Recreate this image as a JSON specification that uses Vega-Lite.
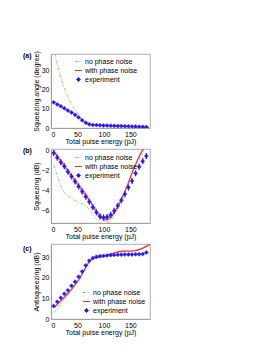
{
"$schema": "https://vega.github.io/schema/vega-lite/v6.json",
"padding": {"left": 22, "top": 50, "right": 5, "bottom": 5},
"spacing": 0,
"resolve": {"scale": {"color": "independent"}, "legend": {"color": "independent"}},
"config": {
  "font": "Liberation Sans",
  "view": {"stroke": "#999", "strokeWidth": 0.8},
  "axis": {"labelFontSize": 7, "titleFontSize": 7, "titleFontWeight": "normal", "grid": false, "ticks": false, "domainColor": "#999", "domainWidth": 0.8, "labelColor": "#000", "titleColor": "#000", "labelPadding": 2},
  "axisX": {"titlePadding": 0},
  "axisY": {"titlePadding": 2},
  "legend": {"labelFontSize": 7, "labelColor": "#000", "rowPadding": 1, "labelOffset": 2, "symbolSize": 50, "padding": 0},
  "title": {"fontSize": 7, "fontWeight": "bold", "anchor": "start", "frame": "group", "color": "#000", "baseline": "top"}
},
"datasets": {
  "aG": [{"x":5,"y":42,"series":"no phase noise"},{"x":10,"y":35,"series":"no phase noise"},{"x":15,"y":29.5,"series":"no phase noise"},{"x":20,"y":24.7,"series":"no phase noise"},{"x":25,"y":20.6,"series":"no phase noise"},{"x":30,"y":17.2,"series":"no phase noise"},{"x":35,"y":14.3,"series":"no phase noise"},{"x":40,"y":11.7,"series":"no phase noise"},{"x":45,"y":9.3,"series":"no phase noise"},{"x":50,"y":7.2,"series":"no phase noise"},{"x":55,"y":5.4,"series":"no phase noise"},{"x":60,"y":3.8,"series":"no phase noise"},{"x":65,"y":2.6,"series":"no phase noise"},{"x":70,"y":1.9,"series":"no phase noise"},{"x":78,"y":1.6,"series":"no phase noise"},{"x":90,"y":1.35,"series":"no phase noise"},{"x":110,"y":1.1,"series":"no phase noise"},{"x":130,"y":0.9,"series":"no phase noise"},{"x":150,"y":0.7,"series":"no phase noise"},{"x":170,"y":0.5,"series":"no phase noise"},{"x":185,"y":0.4,"series":"no phase noise"}],
  "aR": [{"x":5,"y":13.6,"series":"with phase noise"},{"x":15,"y":12,"series":"with phase noise"},{"x":25,"y":10.3,"series":"with phase noise"},{"x":35,"y":8.6,"series":"with phase noise"},{"x":45,"y":6.9,"series":"with phase noise"},{"x":55,"y":4.9,"series":"with phase noise"},{"x":62,"y":3.3,"series":"with phase noise"},{"x":70,"y":2.1,"series":"with phase noise"},{"x":78,"y":1.6,"series":"with phase noise"},{"x":90,"y":1.35,"series":"with phase noise"},{"x":110,"y":1.1,"series":"with phase noise"},{"x":130,"y":0.9,"series":"with phase noise"},{"x":150,"y":0.7,"series":"with phase noise"},{"x":170,"y":0.5,"series":"with phase noise"},{"x":185,"y":0.4,"series":"with phase noise"}],
  "aE": [{"x":5,"y":13.3,"e":0.5,"series":"experiment"},{"x":11.7,"y":12.2,"e":0.5,"series":"experiment"},{"x":18.5,"y":11.3,"e":0.5,"series":"experiment"},{"x":25.2,"y":10.2,"e":0.5,"series":"experiment"},{"x":31.9,"y":9.0,"e":0.5,"series":"experiment"},{"x":38.7,"y":8.0,"e":0.5,"series":"experiment"},{"x":45.4,"y":6.8,"e":0.5,"series":"experiment"},{"x":52.1,"y":5.5,"e":0.5,"series":"experiment"},{"x":58.8,"y":4.0,"e":0.5,"series":"experiment"},{"x":65.6,"y":2.7,"e":0.5,"series":"experiment"},{"x":72.3,"y":1.9,"e":0.5,"series":"experiment"},{"x":79,"y":1.6,"e":0.5,"series":"experiment"},{"x":85.8,"y":1.5,"e":0.5,"series":"experiment"},{"x":92.5,"y":1.4,"e":0.5,"series":"experiment"},{"x":99.2,"y":1.3,"e":0.5,"series":"experiment"},{"x":105.9,"y":1.25,"e":0.5,"series":"experiment"},{"x":112.7,"y":1.2,"e":0.5,"series":"experiment"},{"x":119.4,"y":1.1,"e":0.5,"series":"experiment"},{"x":126.1,"y":1.05,"e":0.5,"series":"experiment"},{"x":132.9,"y":1.0,"e":0.5,"series":"experiment"},{"x":139.6,"y":0.95,"e":0.5,"series":"experiment"},{"x":146.3,"y":0.9,"e":0.5,"series":"experiment"},{"x":153,"y":0.8,"e":0.5,"series":"experiment"},{"x":159.8,"y":0.75,"e":0.5,"series":"experiment"},{"x":166.5,"y":0.7,"e":0.5,"series":"experiment"},{"x":173.2,"y":0.6,"e":0.5,"series":"experiment"},{"x":180,"y":0.5,"e":0.5,"series":"experiment"}],
  "bG": [{"x":5,"y":-1.5,"series":"no phase noise"},{"x":12,"y":-2.55,"series":"no phase noise"},{"x":18,"y":-3.5,"series":"no phase noise"},{"x":24.5,"y":-4.2,"series":"no phase noise"},{"x":31,"y":-4.5,"series":"no phase noise"},{"x":40,"y":-4.85,"series":"no phase noise"},{"x":50,"y":-5.1,"series":"no phase noise"},{"x":59,"y":-5.3,"series":"no phase noise"},{"x":69,"y":-5.65,"series":"no phase noise"},{"x":78,"y":-6.3,"series":"no phase noise"},{"x":88,"y":-6.95,"series":"no phase noise"},{"x":97,"y":-7.25,"series":"no phase noise"},{"x":105,"y":-7.3,"series":"no phase noise"},{"x":113,"y":-6.95,"series":"no phase noise"},{"x":118,"y":-6.55,"series":"no phase noise"},{"x":122,"y":-6.0,"series":"no phase noise"},{"x":130,"y":-5.2,"series":"no phase noise"},{"x":138,"y":-4.3,"series":"no phase noise"},{"x":145,"y":-3.4,"series":"no phase noise"},{"x":152,"y":-2.4,"series":"no phase noise"},{"x":160,"y":-1.4,"series":"no phase noise"},{"x":167,"y":-0.6,"series":"no phase noise"},{"x":173,"y":0.0,"series":"no phase noise"},{"x":180,"y":0.5,"series":"no phase noise"}],
  "bR": [{"x":5,"y":-0.1,"lo":-0.35,"hi":0.15,"series":"with phase noise"},{"x":15,"y":-0.85,"lo":-1.1,"hi":-0.6,"series":"with phase noise"},{"x":25,"y":-1.55,"lo":-1.8,"hi":-1.3,"series":"with phase noise"},{"x":35,"y":-2.3,"lo":-2.55,"hi":-2.05,"series":"with phase noise"},{"x":45,"y":-3.0,"lo":-3.25,"hi":-2.75,"series":"with phase noise"},{"x":55,"y":-3.7,"lo":-3.95,"hi":-3.45,"series":"with phase noise"},{"x":65,"y":-4.4,"lo":-4.65,"hi":-4.15,"series":"with phase noise"},{"x":75,"y":-5.15,"lo":-5.4,"hi":-4.9,"series":"with phase noise"},{"x":85,"y":-6.0,"lo":-6.25,"hi":-5.75,"series":"with phase noise"},{"x":92,"y":-6.55,"lo":-6.8,"hi":-6.3,"series":"with phase noise"},{"x":100,"y":-6.85,"lo":-7.1,"hi":-6.6,"series":"with phase noise"},{"x":108,"y":-6.8,"lo":-7.05,"hi":-6.55,"series":"with phase noise"},{"x":115,"y":-6.5,"lo":-6.75,"hi":-6.25,"series":"with phase noise"},{"x":122,"y":-6.0,"lo":-6.25,"hi":-5.75,"series":"with phase noise"},{"x":130,"y":-5.2,"lo":-5.45,"hi":-4.95,"series":"with phase noise"},{"x":138,"y":-4.3,"lo":-4.55,"hi":-4.05,"series":"with phase noise"},{"x":145,"y":-3.4,"lo":-3.65,"hi":-3.15,"series":"with phase noise"},{"x":152,"y":-2.4,"lo":-2.65,"hi":-2.15,"series":"with phase noise"},{"x":160,"y":-1.4,"lo":-1.65,"hi":-1.15,"series":"with phase noise"},{"x":167,"y":-0.6,"lo":-0.85,"hi":-0.35,"series":"with phase noise"},{"x":173,"y":0.0,"lo":-0.25,"hi":0.25,"series":"with phase noise"},{"x":180,"y":0.5,"lo":0.25,"hi":0.75,"series":"with phase noise"}],
  "bE": [{"x":5,"y":-0.3,"e":0.3,"series":"experiment"},{"x":11.7,"y":-0.75,"e":0.3,"series":"experiment"},{"x":18.5,"y":-1.2,"e":0.3,"series":"experiment"},{"x":25.2,"y":-1.6,"e":0.3,"series":"experiment"},{"x":31.9,"y":-2.15,"e":0.3,"series":"experiment"},{"x":38.7,"y":-2.6,"e":0.3,"series":"experiment"},{"x":45.4,"y":-3.1,"e":0.3,"series":"experiment"},{"x":52.1,"y":-3.6,"e":0.3,"series":"experiment"},{"x":58.8,"y":-4.1,"e":0.3,"series":"experiment"},{"x":65.6,"y":-4.6,"e":0.3,"series":"experiment"},{"x":72.3,"y":-5.1,"e":0.3,"series":"experiment"},{"x":79,"y":-5.65,"e":0.3,"series":"experiment"},{"x":85.8,"y":-6.15,"e":0.3,"series":"experiment"},{"x":92.5,"y":-6.55,"e":0.3,"series":"experiment"},{"x":99.2,"y":-6.65,"e":0.3,"series":"experiment"},{"x":105.9,"y":-6.6,"e":0.3,"series":"experiment"},{"x":112.7,"y":-6.4,"e":0.3,"series":"experiment"},{"x":119.4,"y":-6.0,"e":0.3,"series":"experiment"},{"x":126.1,"y":-5.5,"e":0.3,"series":"experiment"},{"x":132.9,"y":-4.95,"e":0.3,"series":"experiment"},{"x":139.6,"y":-4.35,"e":0.3,"series":"experiment"},{"x":146.3,"y":-3.7,"e":0.3,"series":"experiment"},{"x":153,"y":-3.05,"e":0.3,"series":"experiment"},{"x":159.8,"y":-2.3,"e":0.3,"series":"experiment"},{"x":166.5,"y":-1.65,"e":0.3,"series":"experiment"},{"x":173.2,"y":-1.1,"e":0.3,"series":"experiment"},{"x":180,"y":-0.6,"e":0.3,"series":"experiment"}],
  "cG": [{"x":6,"y":3.1,"series":"no phase noise"},{"x":15,"y":6.0,"series":"no phase noise"},{"x":25,"y":9.3,"series":"no phase noise"},{"x":35,"y":12.6,"series":"no phase noise"},{"x":45,"y":15.9,"series":"no phase noise"},{"x":55,"y":19.5,"series":"no phase noise"},{"x":65,"y":24.5,"series":"no phase noise"},{"x":72,"y":27.8,"series":"no phase noise"},{"x":78,"y":29.2,"series":"no phase noise"},{"x":85,"y":29.7,"series":"no phase noise"},{"x":95,"y":30.3,"series":"no phase noise"},{"x":105,"y":31.0,"series":"no phase noise"},{"x":115,"y":31.8,"series":"no phase noise"},{"x":125,"y":32.5,"series":"no phase noise"},{"x":135,"y":32.9,"series":"no phase noise"},{"x":150,"y":33.0,"series":"no phase noise"},{"x":160,"y":33.2,"series":"no phase noise"},{"x":170,"y":34.0,"series":"no phase noise"},{"x":178,"y":35.0,"series":"no phase noise"},{"x":187,"y":36.2,"series":"no phase noise"}],
  "cR": [{"x":5,"y":5.4,"series":"with phase noise"},{"x":15,"y":7.9,"series":"with phase noise"},{"x":25,"y":10.5,"series":"with phase noise"},{"x":35,"y":13.3,"series":"with phase noise"},{"x":45,"y":16.5,"series":"with phase noise"},{"x":55,"y":20.0,"series":"with phase noise"},{"x":65,"y":24.8,"series":"with phase noise"},{"x":72,"y":27.8,"series":"with phase noise"},{"x":78,"y":29.2,"series":"with phase noise"},{"x":85,"y":29.7,"series":"with phase noise"},{"x":95,"y":30.3,"series":"with phase noise"},{"x":105,"y":31.0,"series":"with phase noise"},{"x":115,"y":31.8,"series":"with phase noise"},{"x":125,"y":32.5,"series":"with phase noise"},{"x":135,"y":32.9,"series":"with phase noise"},{"x":150,"y":33.0,"series":"with phase noise"},{"x":160,"y":33.2,"series":"with phase noise"},{"x":170,"y":34.0,"series":"with phase noise"},{"x":178,"y":35.0,"series":"with phase noise"},{"x":187,"y":36.2,"series":"with phase noise"}],
  "cE": [{"x":5,"y":6.3,"e":0.4,"series":"experiment"},{"x":11.7,"y":8.4,"e":0.4,"series":"experiment"},{"x":18.5,"y":10.3,"e":0.4,"series":"experiment"},{"x":25.2,"y":12.2,"e":0.4,"series":"experiment"},{"x":31.9,"y":13.9,"e":0.4,"series":"experiment"},{"x":38.7,"y":16.1,"e":0.4,"series":"experiment"},{"x":45.4,"y":18.1,"e":0.4,"series":"experiment"},{"x":52.1,"y":20.5,"e":0.4,"series":"experiment"},{"x":58.8,"y":23.1,"e":0.4,"series":"experiment"},{"x":65.6,"y":26.0,"e":0.4,"series":"experiment"},{"x":72.3,"y":28.3,"e":0.4,"series":"experiment"},{"x":79,"y":29.6,"e":0.4,"series":"experiment"},{"x":85.8,"y":30.2,"e":0.4,"series":"experiment"},{"x":92.5,"y":30.5,"e":0.4,"series":"experiment"},{"x":99.2,"y":30.6,"e":0.4,"series":"experiment"},{"x":105.9,"y":30.8,"e":0.4,"series":"experiment"},{"x":112.7,"y":31.0,"e":0.4,"series":"experiment"},{"x":119.4,"y":31.1,"e":0.4,"series":"experiment"},{"x":126.1,"y":31.2,"e":0.4,"series":"experiment"},{"x":132.9,"y":31.2,"e":0.4,"series":"experiment"},{"x":139.6,"y":31.3,"e":0.4,"series":"experiment"},{"x":146.3,"y":31.3,"e":0.4,"series":"experiment"},{"x":153,"y":31.3,"e":0.4,"series":"experiment"},{"x":159.8,"y":31.4,"e":0.4,"series":"experiment"},{"x":166.5,"y":31.4,"e":0.4,"series":"experiment"},{"x":173.2,"y":31.5,"e":0.4,"series":"experiment"},{"x":180,"y":32.3,"e":0.4,"series":"experiment"}]
},
"vconcat": [
  {
    "width": 99, "height": 74,
    "title": {"text": "(a)", "dx": -28, "offset": -8},
    "encoding": {
      "x": {"field": "x", "type": "quantitative", "scale": {"domain": [0, 187], "nice": false}, "axis": {"values": [0, 50, 100, 150], "title": "Total pulse energy (pJ)"}},
      "y": {"field": "y", "type": "quantitative", "scale": {"domain": [0, 38.3], "nice": false}, "axis": {"values": [0, 10, 20, 30], "title": "Squeezing angle (degree)"}}
    },
    "layer": [
      {"data": {"name": "aG"}, "mark": {"type": "line", "strokeWidth": 0.9, "strokeDash": [3, 1.5, 1, 1.5], "clip": true},
       "encoding": {"color": {"field": "series", "type": "nominal", "scale": {"domain": ["no phase noise", "with phase noise", "experiment"], "range": ["#66dd55", "#ff2020", "#1a1aff"]},
         "legend": {"title": null, "orient": "none", "legendX": 23, "legendY": 3,
           "encode": {"symbols": {"update": {
             "shape": {"signal": "datum.value === 'experiment' ? 'diamond' : 'stroke'"},
             "strokeDash": {"signal": "datum.value === 'no phase noise' ? [3,1.5,1,1.5] : [1,0]"},
             "size": {"signal": "datum.value === 'experiment' ? 16 : 50"},
             "fill": {"signal": "datum.value === 'experiment' ? '#1a1aff' : 'transparent'"},
             "stroke": {"signal": "datum.value === 'experiment' ? '#4a2aff' : (datum.value === 'no phase noise' ? '#66dd55' : '#ff2020')"},
             "strokeWidth": {"value": 1}, "opacity": {"value": 1}}}}}}}},
      {"data": {"name": "aR"}, "mark": {"type": "line", "strokeWidth": 1, "clip": true}, "encoding": {"color": {"field": "series", "type": "nominal"}}},
      {"data": {"name": "aE"}, "mark": {"type": "errorbar", "color": "#1a1aff", "thickness": 1, "clip": true}, "encoding": {"yError": {"field": "e"}}},
      {"data": {"name": "aE"}, "mark": {"type": "point", "shape": "diamond", "filled": true, "size": 16, "opacity": 1, "stroke": "#4a2aff", "strokeWidth": 0.6, "clip": true}, "encoding": {"color": {"field": "series", "type": "nominal"}}}
    ]
  },
  {
    "spacing": 3,
    "resolve": {"scale": {"color": "independent"}, "legend": {"color": "independent"}},
    "vconcat": [
      {
        "width": 99, "height": 74,
        "title": {"text": "(b)", "dx": -28, "offset": -8},
        "encoding": {
          "x": {"field": "x", "type": "quantitative", "scale": {"domain": [0, 187], "nice": false}, "axis": {"values": [0, 50, 100, 150], "title": "Total pulse energy (pJ)"}},
          "y": {"field": "y", "type": "quantitative", "scale": {"domain": [-7.2, 0.1], "nice": false}, "axis": {"values": [0, -2, -4, -6], "title": "Squeezing (dB)"}}
        },
        "layer": [
          {"data": {"name": "bR"}, "mark": {"type": "area", "color": "#ffb3b3", "opacity": 0.9, "clip": true}, "encoding": {"y": {"field": "lo", "type": "quantitative"}, "y2": {"field": "hi"}}},
          {"data": {"name": "bG"}, "mark": {"type": "line", "strokeWidth": 0.9, "strokeDash": [3, 1.5, 1, 1.5], "clip": true},
           "encoding": {"color": {"field": "series", "type": "nominal", "scale": {"domain": ["no phase noise", "with phase noise", "experiment"], "range": ["#66dd55", "#ff2020", "#1a1aff"]},
             "legend": {"title": null, "orient": "none", "legendX": 23, "legendY": 4,
               "encode": {"symbols": {"update": {
                 "shape": {"signal": "datum.value === 'experiment' ? 'diamond' : 'stroke'"},
                 "strokeDash": {"signal": "datum.value === 'no phase noise' ? [3,1.5,1,1.5] : [1,0]"},
                 "size": {"signal": "datum.value === 'experiment' ? 16 : 50"},
                 "fill": {"signal": "datum.value === 'experiment' ? '#1a1aff' : 'transparent'"},
                 "stroke": {"signal": "datum.value === 'experiment' ? '#4a2aff' : (datum.value === 'no phase noise' ? '#66dd55' : '#ff2020')"},
                 "strokeWidth": {"value": 1}, "opacity": {"value": 1}}}}}}}},
          {"data": {"name": "bR"}, "mark": {"type": "line", "strokeWidth": 1, "clip": true}, "encoding": {"color": {"field": "series", "type": "nominal"}}},
          {"data": {"name": "bE"}, "mark": {"type": "errorbar", "color": "#1a1aff", "thickness": 1.2, "clip": true}, "encoding": {"yError": {"field": "e"}}},
          {"data": {"name": "bE"}, "mark": {"type": "point", "shape": "diamond", "filled": true, "size": 16, "opacity": 1, "stroke": "#4a2aff", "strokeWidth": 0.6, "clip": true}, "encoding": {"color": {"field": "series", "type": "nominal"}}}
        ]
      },
      {
        "width": 99, "height": 75,
        "title": {"text": "(c)", "dx": -28, "offset": -8},
        "encoding": {
          "x": {"field": "x", "type": "quantitative", "scale": {"domain": [0, 187], "nice": false}, "axis": {"values": [0, 50, 100, 150], "title": "Total pulse energy (pJ)"}},
          "y": {"field": "y", "type": "quantitative", "scale": {"domain": [0, 36.4], "nice": false}, "axis": {"values": [0, 10, 20, 30], "title": "Antisqueezing (dB)"}}
        },
        "layer": [
          {"data": {"name": "cG"}, "mark": {"type": "line", "strokeWidth": 0.9, "strokeDash": [3, 1.5, 1, 1.5], "clip": true},
           "encoding": {"color": {"field": "series", "type": "nominal", "scale": {"domain": ["no phase noise", "with phase noise", "experiment"], "range": ["#66dd55", "#ff2020", "#1a1aff"]},
             "legend": {"title": null, "orient": "none", "legendX": 31, "legendY": 44,
               "encode": {"symbols": {"update": {
                 "shape": {"signal": "datum.value === 'experiment' ? 'diamond' : 'stroke'"},
                 "strokeDash": {"signal": "datum.value === 'no phase noise' ? [3,1.5,1,1.5] : [1,0]"},
                 "size": {"signal": "datum.value === 'experiment' ? 16 : 50"},
                 "fill": {"signal": "datum.value === 'experiment' ? '#1a1aff' : 'transparent'"},
                 "stroke": {"signal": "datum.value === 'experiment' ? '#4a2aff' : (datum.value === 'no phase noise' ? '#66dd55' : '#ff2020')"},
                 "strokeWidth": {"value": 1}, "opacity": {"value": 1}}}}}}}},
          {"data": {"name": "cR"}, "mark": {"type": "line", "strokeWidth": 1.2, "clip": true}, "encoding": {"color": {"field": "series", "type": "nominal"}}},
          {"data": {"name": "cE"}, "mark": {"type": "errorbar", "color": "#1a1aff", "thickness": 1, "clip": true}, "encoding": {"yError": {"field": "e"}}},
          {"data": {"name": "cE"}, "mark": {"type": "point", "shape": "diamond", "filled": true, "size": 16, "opacity": 1, "stroke": "#4a2aff", "strokeWidth": 0.6, "clip": true}, "encoding": {"color": {"field": "series", "type": "nominal"}}}
        ]
      }
    ]
  }
]
}
